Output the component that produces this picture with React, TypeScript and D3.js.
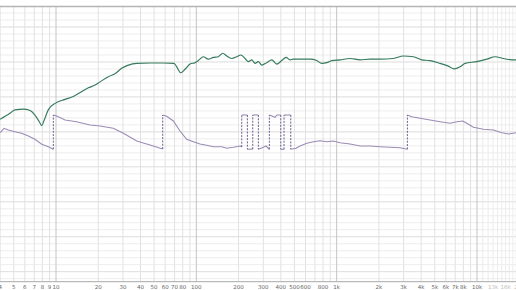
import React from 'react';
import * as d3 from 'd3';

const W = 516;
const H = 290;

// Magnitude (green) – frequency in Hz, level in dB
const magFreq = [4, 4.7, 5.1, 5.85, 6.53, 7.08, 7.6, 7.91, 8.21, 8.81, 10, 11.6, 13.3, 15.2, 17, 19, 20.6, 23.6, 26.3, 29.4, 32.8, 37.6, 46.8, 58.2, 69.3, 72.5, 77.4, 83, 90.2, 97.9, 103.3, 112.2, 121.8, 132.2, 143.5, 154.3, 164.7, 178.7, 194, 207.3, 222.4, 234.8, 248.3, 262, 276.7, 292.5, 317.5, 344.6, 374.1, 406.1, 436, 465.4, 491.3, 548.3, 645.9, 721.4, 782.6, 849.6, 922.3, 1057, 1246, 1468, 1730, 2038, 2536, 2987, 3520, 4043, 4634, 5460, 6255, 6871, 7577, 8223, 9968, 11740, 13460, 15430, 17700, 19000];
const magDb = [73.6, 75.3, 76.3, 76.5, 76.1, 74.8, 72.9, 71.8, 73.2, 76.3, 78.3, 79.3, 80.1, 81.5, 82.6, 83.4, 84.3, 85.8, 86.6, 88.2, 89.1, 89.6, 89.7, 89.7, 89.6, 88.6, 86.9, 87.9, 89.4, 89.8, 90.4, 91.5, 90.8, 91.3, 91.5, 92.5, 91.7, 91.0, 91.5, 92.0, 91.0, 90.1, 90.6, 89.6, 90.1, 89.1, 89.8, 90.6, 89.4, 90.4, 91.3, 90.6, 90.8, 90.8, 90.8, 90.4, 89.6, 89.8, 90.4, 90.6, 91.0, 90.6, 90.8, 90.8, 91.0, 91.7, 91.5, 90.6, 90.4, 89.6, 88.8, 88.0, 88.6, 89.6, 90.1, 90.8, 91.5, 91.0, 90.6, 90.6];

// Phase (purple) – wrapped degrees; repeated frequency = wrap jump
const phaseFreq = [4, 4.26, 4.57, 5.1, 5.69, 6.35, 7.08, 7.91, 8.81, 9.57, 9.57, 10.1, 11.6, 14.0, 17.5, 20.6, 25.6, 30.2, 37.6, 46.8, 57.6, 57.6, 61.5, 68.6, 76.5, 85.4, 95.2, 106.3, 118.6, 132.2, 151.7, 164.7, 183.5, 204.8, 210.7, 210.7, 231.0, 231.0, 252.4, 252.4, 276.7, 276.7, 300.3, 314.0, 324.3, 331.4, 331.4, 363.9, 375.8, 399.6, 399.6, 421.7, 421.7, 470.9, 470.9, 513.5, 548.3, 612.2, 682.3, 761.6, 850, 947.3, 1057, 1246, 1468, 1730, 2038, 2403, 2831, 3190, 3190, 3430, 3931, 4634, 5460, 6432, 7178, 7922, 8455, 9425, 11110, 13090, 15030, 16750, 19000];
const phaseDeg = [-5.8, 40.4, 22.6, 4.7, -12.1, -40.4, -75, -127.5, -152.7, -180, 180, 169.5, 127.5, 109.7, 75, 64.5, 40.4, -12.1, -92.9, -134.9, -176.9, 180, 167.4, 117, 12, -75, -100.2, -124.4, -138, -152.7, -152.7, -169.5, -159, -145.4, -155.9, 180, 180, -180, -178, 180, 180, -180, -159, -145.4, -166.4, -180, 180, 155.9, 180, 180, -180, -180, 180, 180, -180, -170, -145.4, -117, -100.2, -89.7, -100.2, -92.9, -110.7, -124.4, -145.4, -145.4, -152.7, -159, -163.2, -180, 180, 162.2, 145.4, 127.5, 109.7, 92.9, 109.7, 117, 92.9, 50.9, 29.9, 22.6, -5.8, -19.4, -5.8];

// X axis grid and labels
const gridFreqs = [4, 5, 6, 7, 8, 9, 10, 20, 30, 40, 50, 60, 70, 80, 90, 100, 200, 300, 400, 500, 600, 700, 800, 900, 1000, 2000, 3000, 4000, 5000, 6000, 7000, 8000, 9000, 10000, 11000, 12000, 13000, 14000, 15000, 16000, 17000, 18000, 19000, 20000];
const decadeFreqs = [10, 100, 1000, 10000];
const fineFreqs = [11000, 12000, 13000, 14000, 15000, 16000, 17000, 18000, 19000];
const labelFreqs = [4, 5, 6, 7, 8, 9, 10, 20, 30, 40, 50, 60, 70, 80, 100, 200, 300, 400, 500, 600, 800, 1000, 2000, 3000, 4000, 5000, 6000, 7000, 8000, 10000, 13000, 16000, 20000];
const labelTexts = ['4', '5', '6', '7', '8', '9', '10', '20', '30', '40', '50', '60', '70', '80', '100', '200', '300', '400', '500', '600', '800', '1k', '2k', '3k', '4k', '5k', '6k', '7k', '8k', '10k', '13k', '16k', '20k'];
const mutedLabels = ['13k', '16k', '20k'];

// Y grid (dB)
const dbMinor = d3.range(28, 106, 2);

export default function App() {
  const plotTop = 7;
  const plotBottom = 281.5;
  const x = d3.scaleLog().domain([10, 10000]).range([56, 477]);
  const y = d3.scaleLinear().domain([30, 100]).range([271.7, 27]);
  const yp = d3.scaleLinear().domain([-180, 180]).range([149.3, 115]);

  const magPts: [number, number][] = magFreq.map((f, i) => [x(f), y(magDb[i])]);
  const magPath = d3.line().curve(d3.curveMonotoneX)(magPts) || '';

  // split phase into solid segments and dashed wrap jumps
  const solids: [number, number][][] = [];
  const dashes: { x: number; y1: number; y2: number }[] = [];
  let cur: [number, number][] = [];
  for (let i = 0; i < phaseFreq.length; i++) {
    const p: [number, number] = [x(phaseFreq[i]), yp(phaseDeg[i])];
    if (i > 0 && phaseFreq[i] === phaseFreq[i - 1]) {
      dashes.push({ x: p[0], y1: yp(phaseDeg[i - 1]), y2: p[1] });
      if (cur.length > 1) solids.push(cur);
      cur = [p];
    } else {
      cur.push(p);
    }
  }
  if (cur.length > 1) solids.push(cur);
  const lineGen = d3.line().curve(d3.curveLinear);

  return (
    <svg width={W} height={H} style={{ position: 'absolute', left: 0, top: 0, background: '#fff' }}>
      <rect x={0} y={0} width={W} height={H} fill="#fff" />
      {/* horizontal grid */}
      {dbMinor.filter(v => y(v) > plotTop + 1 && y(v) < plotBottom - 1).map(v => (
        <line key={'h' + v} x1={0} x2={W} y1={y(v)} y2={y(v)}
          stroke={v % 10 === 0 ? '#dcdcdc' : '#ededed'} strokeWidth={1} />
      ))}
      {/* vertical grid */}
      {gridFreqs.map(f => {
        const isDec = decadeFreqs.includes(f);
        const isFine = fineFreqs.includes(f);
        return (
          <line key={'v' + f} x1={x(f)} x2={x(f)} y1={plotTop} y2={plotBottom}
            stroke={isDec ? '#c4c4c4' : isFine ? '#ececec' : '#e2e2e2'} strokeWidth={1} />
        );
      })}
      {/* top border */}
      <line x1={0} x2={W} y1={6.5} y2={6.5} stroke="#b4b4b4" strokeWidth={1.5} />
      {/* bottom axis */}
      <line x1={0} x2={W} y1={281.7} y2={281.7} stroke="#a8a8a8" strokeWidth={1} />
      {labelFreqs.map((f, i) => (
        <text key={'l' + f} x={x(f)} y={289} fontSize={5.5} textAnchor="middle"
          fontFamily="DejaVu Sans, sans-serif"
          fill={mutedLabels.includes(labelTexts[i]) ? '#bdbdbd' : '#666'}>{labelTexts[i]}</text>
      ))}
      {/* phase */}
      {solids.map((s, i) => (
        <path key={'ps' + i} d={lineGen(s) || ''} fill="none" stroke="#9b8cb5" strokeWidth={1.1} />
      ))}
      {dashes.map((d, i) => (
        <line key={'pd' + i} x1={d.x} x2={d.x} y1={d.y1} y2={d.y2} stroke="#6d5b8e"
          strokeWidth={1} strokeDasharray="2,1.3" />
      ))}
      {/* magnitude */}
      <path d={magPath} fill="none" stroke="#357a5c" strokeWidth={1.15} />
    </svg>
  );
}
